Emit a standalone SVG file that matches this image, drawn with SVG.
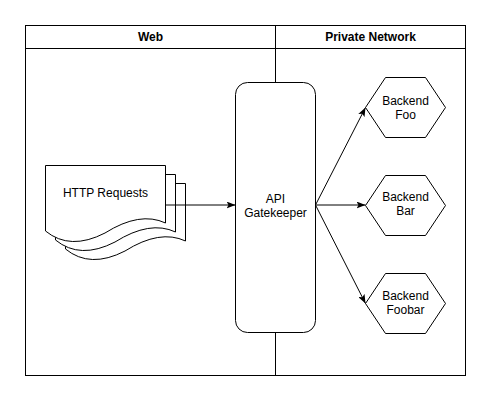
<svg xmlns="http://www.w3.org/2000/svg" width="492" height="402" viewBox="0 0 492 402">
  <style>
    .shape { fill: #ffffff; stroke: #000000; stroke-width: 1; }
    .lane { fill: none; stroke: #000000; stroke-width: 1; }
    .edge { fill: none; stroke: #000000; stroke-width: 1; }
    .label { font-family: "Liberation Sans", Arial, Helvetica, sans-serif; font-size: 12px; fill: #000000; text-anchor: middle; }
    .title { font-family: "Liberation Sans", Arial, Helvetica, sans-serif; font-size: 12px; font-weight: bold; fill: #000000; text-anchor: middle; }
  </style>
  <defs>
    <marker id="arrow" viewBox="0 0 9 7" markerUnits="userSpaceOnUse" markerWidth="9" markerHeight="7" refX="9" refY="3.5" orient="auto">
      <path d="M0,0 L9,3.5 L0,7 L2,3.5 Z" fill="#000000" stroke="none"/>
    </marker>
    <path id="doc" d="M45.5,165.5 H165.5 V223 Q140,211 105,233 Q70,251 45.5,231 Z"/>
    <polygon id="hex" points="0,30 20,0 60,0 80,30 60,60 20,60"/>
  </defs>

  <g id="swimlane">
    <rect class="lane" x="25.5" y="25.5" width="440" height="350"/>
    <line class="lane" x1="25.5" y1="48.5" x2="465.5" y2="48.5"/>
    <line class="lane" x1="275.5" y1="25.5" x2="275.5" y2="375.5"/>
    <text class="title" x="150.5" y="41">Web</text>
    <text class="title" x="370.5" y="41">Private Network</text>
  </g>

  <g id="http-requests">
    <use href="#doc" class="shape" transform="translate(20,18)"/>
    <use href="#doc" class="shape" transform="translate(10,9)"/>
    <use href="#doc" class="shape"/>
    <text class="label" x="105.5" y="197">HTTP Requests</text>
  </g>

  <g id="api-gatekeeper">
    <rect class="shape" x="235.5" y="82.5" width="80" height="250" rx="12" ry="12"/>
    <text class="label" x="275.5" y="202.5">API</text>
    <text class="label" x="275.5" y="216.5">Gatekeeper</text>
  </g>

  <g id="backend-foo">
    <use href="#hex" class="shape" transform="translate(365.5,77.5)"/>
    <text class="label" x="405.5" y="105">Backend</text>
    <text class="label" x="405.5" y="119">Foo</text>
  </g>

  <g id="backend-bar">
    <use href="#hex" class="shape" transform="translate(365.5,175.5)"/>
    <text class="label" x="405.5" y="201">Backend</text>
    <text class="label" x="405.5" y="215">Bar</text>
  </g>

  <g id="backend-foobar">
    <use href="#hex" class="shape" transform="translate(365.5,273.5)"/>
    <text class="label" x="405.5" y="300">Backend</text>
    <text class="label" x="405.5" y="314">Foobar</text>
  </g>

  <g id="connectors">
    <path class="edge" d="M165.5,205 H235.5" marker-end="url(#arrow)"/>
    <path class="edge" d="M315.5,205 L365.5,107.5" marker-end="url(#arrow)"/>
    <path class="edge" d="M315.5,205 H365.5" marker-end="url(#arrow)"/>
    <path class="edge" d="M315.5,205 L365.5,303.5" marker-end="url(#arrow)"/>
  </g>
</svg>
